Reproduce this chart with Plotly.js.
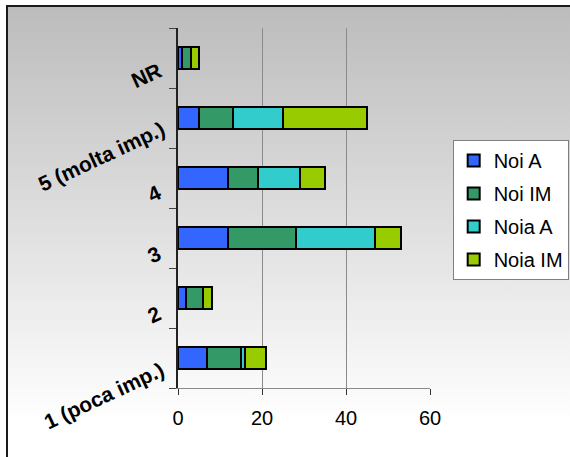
<!DOCTYPE html>
<html>
<head>
<meta charset="utf-8">
<script src="https://cdn.plot.ly/plotly-3.0.1.min.js"></script>
<style>
  html, body { margin: 0; padding: 0; background: #ffffff; }
  #bg { position: absolute; left: 6px; top: 5px; width: 564px; height: 452px;
        border-left: 2px solid #1a1a1a; border-top: 2px solid #1a1a1a;
        background: linear-gradient(to bottom, #bcbcbc 0%, #ffffff 92%); }
  #chart { position: absolute; left: 0; top: 0; width: 570px; height: 457px; }
</style>
</head>
<body>
<div id="bg"></div>
<div id="chart"></div>
<script>
// Data
const categories = ['1 (poca imp.)', '2', '3', '4', '5 (molta imp.)', 'NR'];
const seriesNames = ['Noi A', 'Noi IM', 'Noia A', 'Noia IM'];
const noiA   = [7, 2, 12, 12, 5, 1];
const noiIM  = [8, 4, 16, 7, 8, 2];
const noiaA  = [1, 0, 19, 10, 12, 0];
const noiaIM = [5, 2, 6, 6, 20, 2];
const xTicks = [0, 20, 40, 60];

// Styles
const colors = ['#3366FF', '#339966', '#33CCCC', '#99CC00'];
const FONT = 'Liberation Sans, Arial, sans-serif';
// label placement (pixel offsets of rotated category labels: [xshift from axis, yshift])
const labelOffsets = [[-74, -37], [-24, -16], [-24, -16], [-24, -15], [-77, -38], [-32, -17]];

const values = [noiA, noiIM, noiaA, noiaIM];
const traces = values.map((v, i) => ({
  type: 'bar',
  orientation: 'h',
  name: seriesNames[i],
  x: v,
  y: categories,
  width: 0.37,
  legendgroup: 'g' + i,
  marker: { color: colors[i], line: { color: '#000000', width: 2 } },
  hoverinfo: 'x+name'
}));

const annotations = categories.map((c, i) => ({
  text: '<b>' + c + '</b>',
  xref: 'paper', yref: 'y',
  x: 0, y: i,
  xanchor: 'center', yanchor: 'middle',
  xshift: labelOffsets[i][0], yshift: labelOffsets[i][1],
  textangle: -25,
  showarrow: false,
  font: { family: FONT, size: 21, color: '#000000' }
}));

const layout = {
  width: 570, height: 457,
  margin: { l: 178, r: 140, t: 28, b: 69, autoexpand: false },
  paper_bgcolor: 'rgba(0,0,0,0)',
  plot_bgcolor: 'rgba(0,0,0,0)',
  barmode: 'stack',
  font: { family: FONT, size: 20, color: '#000000' },
  xaxis: {
    range: [0, 60],
    tickvals: xTicks,
    ticktext: xTicks.map(String),
    showgrid: true, gridcolor: '#8a8a8a', gridwidth: 1,
    showline: true, linecolor: '#8a8a8a', linewidth: 1,
    ticks: 'outside', ticklen: 6, tickcolor: '#333333',
    ticklabelstandoff: 6,
    zeroline: false,
    tickfont: { family: FONT, size: 20, color: '#000000' }
  },
  yaxis: {
    type: 'category',
    categoryorder: 'array', categoryarray: categories,
    range: [-0.5, 5.5],
    showticklabels: false,
    showline: true, linecolor: '#222222', linewidth: 2,
    ticks: 'outside', tickson: 'boundaries', ticklen: 7, tickcolor: '#444444',
    showgrid: false, zeroline: false
  },
  showlegend: true,
  legend: {
    x: 1.09, xanchor: 'left',
    y: 0.689, yanchor: 'top',
    bgcolor: '#ffffff', bordercolor: '#7f7f7f', borderwidth: 1,
    traceorder: 'grouped', tracegroupgap: 4,
    font: { family: FONT, size: 20, color: '#000000' }
  },
  annotations: annotations
};

Plotly.newPlot('chart', traces, layout, { staticPlot: true, displayModeBar: false });
</script>
</body>
</html>
